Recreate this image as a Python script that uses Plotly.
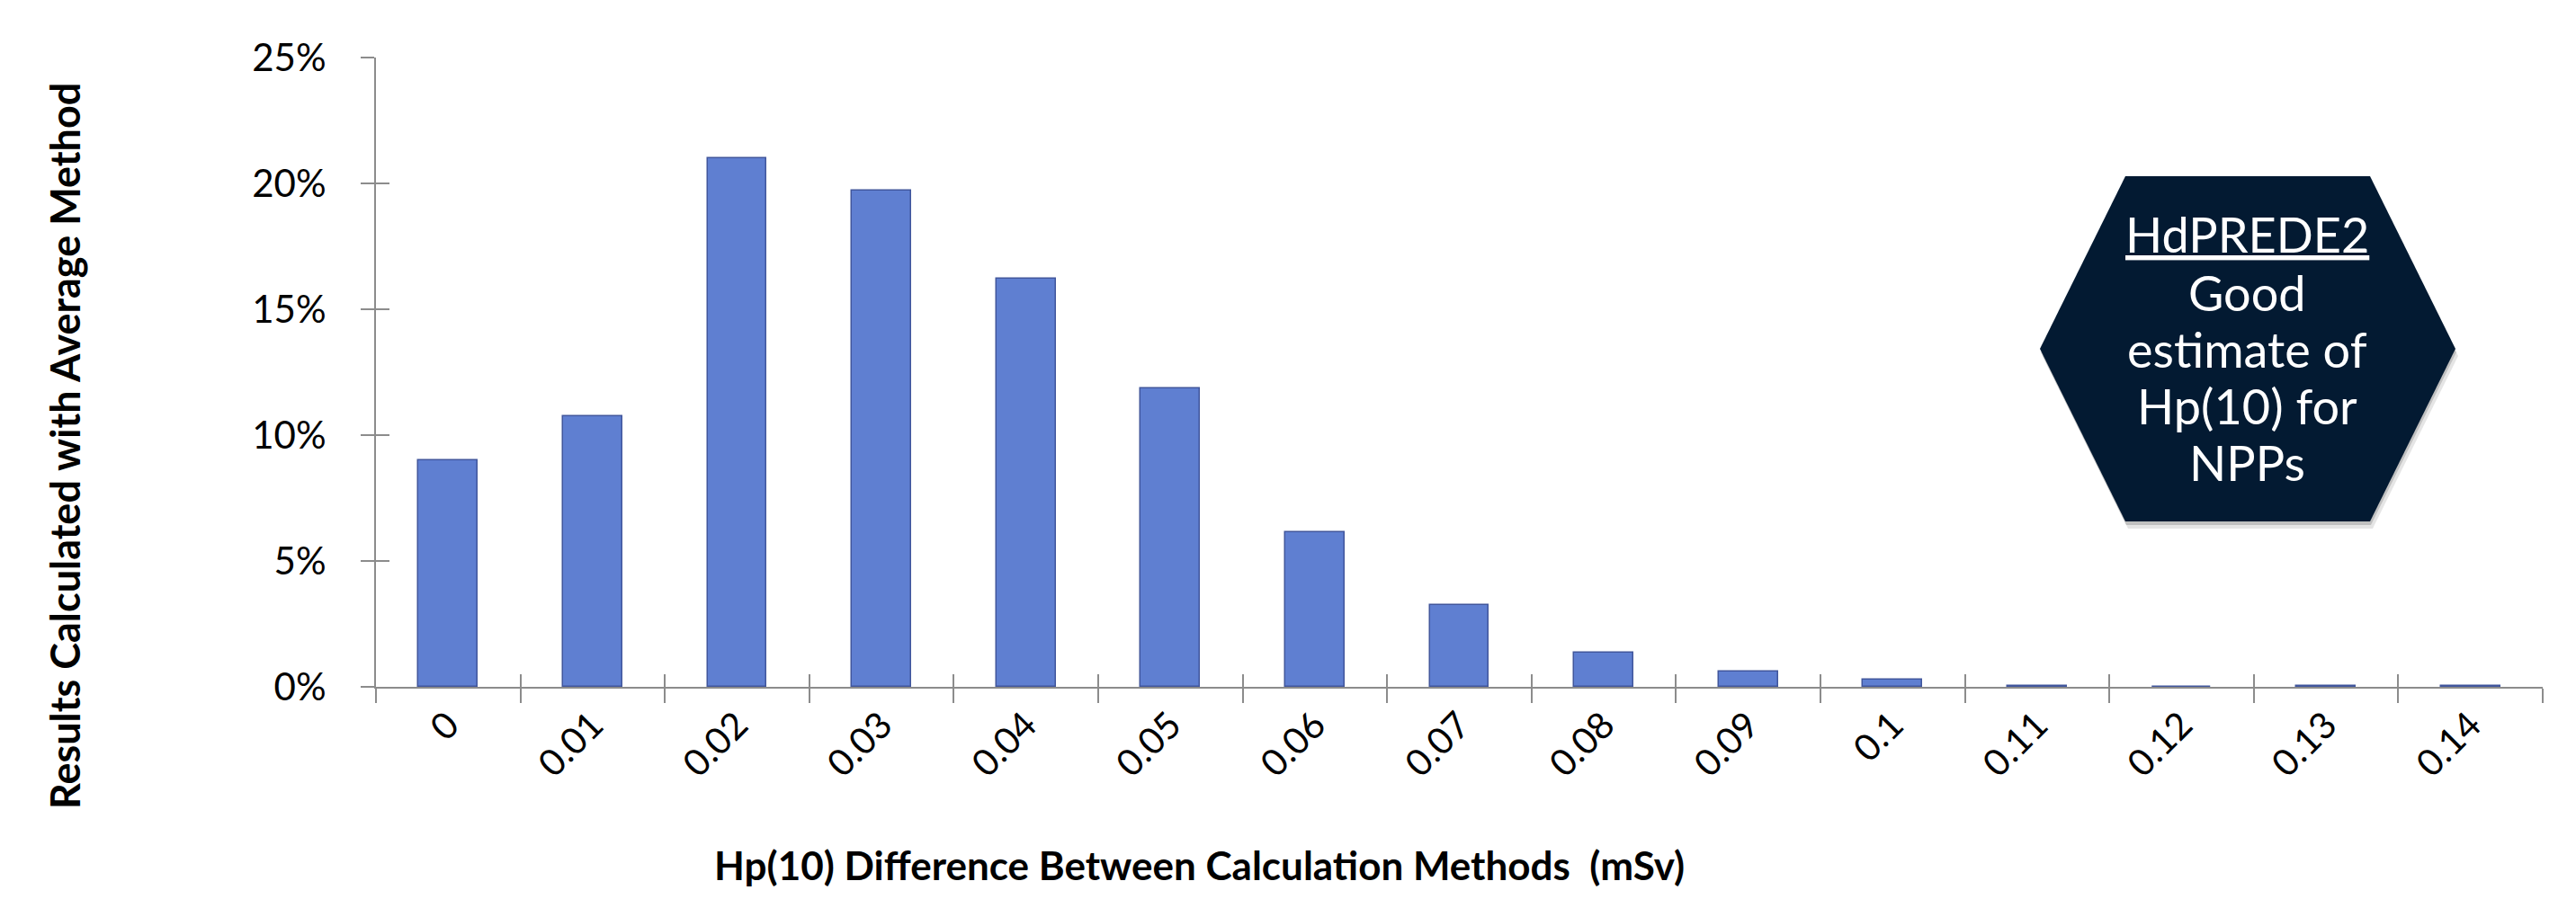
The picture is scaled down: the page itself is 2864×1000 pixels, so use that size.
import plotly.graph_objects as go

categories = ["0", "0.01", "0.02", "0.03", "0.04", "0.05", "0.06", "0.07",
              "0.08", "0.09", "0.1", "0.11", "0.12", "0.13", "0.14"]
percent_values = [9.0, 10.75, 21.0, 19.7, 16.2, 11.85, 6.15, 3.25,
                  1.35, 0.6, 0.3, 0.05, 0.0, 0.03, 0.03]
y_tick_values = [0, 0.05, 0.10, 0.15, 0.20, 0.25]
x_title = "Hp(10) Difference Between Calculation Methods  (mSv)"
y_title = "Results Calculated with Average Method"
hex_lines = ["HdPREDE2", "Good", "estimate of", "Hp(10) for", "NPPs"]

fractions = [v / 100 for v in percent_values]

OFF = 8  # default page body margin
W, H = 2864 - 2 * OFF, 1000 - 2 * OFF
# plot-area edges in page pixels
L, R, T, B = 418, 2827, 64, 764


def px(x):
    return (x - L) / (R - L)


def py(y):
    return (B - y) / (B - T)


FONT = "Lato"
AXIS_COLOR = "#8c8c8c"

fig = go.Figure()
fig.add_trace(go.Bar(
    x=categories, y=fractions, width=0.41,
    marker=dict(color="#5f7fd1", line=dict(color="#41569c", width=1.5)),
    hoverinfo="skip", showlegend=False,
))
# invisible twin used only to draw the upper halves of the crossing ticks
fig.add_trace(go.Bar(
    x=categories, y=fractions, width=0.41, opacity=0,
    xaxis="x2", yaxis="y2", hoverinfo="skip", showlegend=False,
))

fig.update_layout(
    width=W, height=H,
    margin=dict(l=L - OFF, r=W - (R - OFF), t=T - OFF, b=H - (B - OFF), pad=0),
    paper_bgcolor="white", plot_bgcolor="white",
    font=dict(family=FONT, color="black"),
    bargap=0,
    xaxis=dict(
        type="category", categoryorder="array", categoryarray=categories,
        range=[-0.5, len(categories) - 0.5],
        showline=True, linecolor=AXIS_COLOR, linewidth=2,
        ticks="outside", tickson="boundaries", ticklen=16, tickwidth=1.5,
        tickcolor=AXIS_COLOR, tickangle=-45,
        tickfont=dict(family=FONT, size=41, color="black"),
        showgrid=False, zeroline=False,
    ),
    yaxis=dict(
        range=[0, 0.25], tickvals=y_tick_values, tickformat=".0%",
        showline=True, linecolor=AXIS_COLOR, linewidth=2,
        ticks="outside", ticklen=15, tickwidth=1.5, tickcolor=AXIS_COLOR,
        ticklabelstandoff=30,
        tickfont=dict(family=FONT, size=42, color="black"),
        showgrid=False, zeroline=False,
    ),
    xaxis2=dict(
        type="category", categoryorder="array", categoryarray=categories,
        range=[-0.5, len(categories) - 0.5], overlaying="x", anchor="y2",
        ticks="inside", tickson="boundaries", ticklen=14, tickwidth=1.5,
        tickcolor=AXIS_COLOR, showticklabels=False, showline=False,
        showgrid=False, zeroline=False,
    ),
    yaxis2=dict(
        range=[0, 0.25], tickvals=y_tick_values, overlaying="y", anchor="x2",
        side="left", ticks="inside", ticklen=15, tickwidth=1.5,
        tickcolor=AXIS_COLOR, showticklabels=False, showline=False,
        showgrid=False, zeroline=False,
    ),
)

# hexagon callout (page pixel corners)
hex_pts = [(2363, 196), (2635, 196), (2730, 388), (2635, 580), (2363, 580), (2268, 388)]


def hex_path(dx=0, dy=0):
    return "M " + " L ".join(f"{px(x + dx):.5f},{py(y + dy):.5f}" for x, y in hex_pts) + " Z"


shapes = [
    dict(type="path", xref="paper", yref="paper", path=hex_path(3, 8),
         fillcolor="rgba(0,0,0,0.10)", line=dict(width=0), layer="above"),
    dict(type="path", xref="paper", yref="paper", path=hex_path(1, 4),
         fillcolor="rgba(0,0,0,0.16)", line=dict(width=0), layer="above"),
    dict(type="path", xref="paper", yref="paper", path=hex_path(),
         fillcolor="#031a32", line=dict(width=0), layer="above"),
]
fig.update_layout(shapes=shapes)

hex_size = 54
baselines = [282, 347, 410, 473, 536]
for i, (txt, base) in enumerate(zip(hex_lines, baselines)):
    shown = f'<span style="text-decoration:underline">{txt}</span>' if i == 0 else txt
    fig.add_annotation(
        text=shown, xref="paper", yref="paper", x=px(2498), y=py(base - 0.39 * hex_size),
        xanchor="center", yanchor="middle", showarrow=False,
        font=dict(family=FONT, size=hex_size, color="white"),
    )

fig.add_annotation(
    text=f"<b>{x_title}</b>", xref="paper", yref="paper", x=px(1333), y=py(962),
    xanchor="center", yanchor="middle", showarrow=False,
    font=dict(family=FONT, size=44, color="black"),
)
fig.add_annotation(
    text=f"<b>{y_title}</b>", xref="paper", yref="paper", x=px(72), y=py(496),
    xanchor="center", yanchor="middle", showarrow=False, textangle=-90,
    font=dict(family=FONT, size=45, color="black"),
)

fig.write_html("out.html")
